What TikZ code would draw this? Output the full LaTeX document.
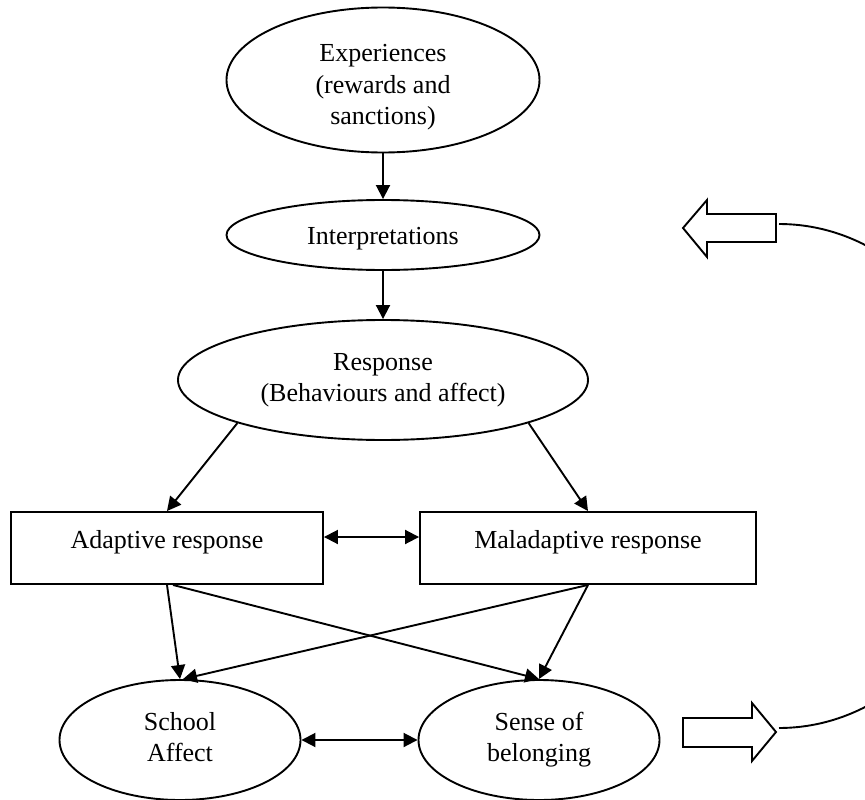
\documentclass[tikz,border=0pt]{standalone}
\usepackage{fontspec}
\setmainfont{Liberation Serif}
\usetikzlibrary{arrows.meta,shapes.geometric}
\newcommand{\mlines}[2][0pt]{\raisebox{#1}[0pt][0pt]{\begin{tabular}{@{}c@{}}#2\end{tabular}}}
\begin{document}
\begin{tikzpicture}[x=1pt,y=-1pt,
  every node/.style={font=\fontsize{26}{31.5}\selectfont, align=center, inner sep=0pt},
  ell/.style={draw, ellipse, line width=1.9pt},
  box/.style={draw, rectangle, line width=1.9pt},
  conn/.style={line width=1.9pt, -{Triangle[length=14pt,width=14pt]}},
  biconn/.style={line width=1.9pt, {Triangle[length=14pt,width=14pt]}-{Triangle[length=14pt,width=14pt]}},
  blockarrow/.style={draw, line width=1.9pt, fill=white, line join=miter},
  loopline/.style={line width=1.9pt}
]
\useasboundingbox (0,0) rectangle (865,800);
\fill[white] (0,0) rectangle (865,800);

\node[ell, minimum width=313pt, minimum height=145pt] (exp) at (383,80) {\mlines[-13pt]{Experiences\\(rewards and\\sanctions)}};
\node[ell, minimum width=313pt, minimum height=70pt] (int) at (383,235) {\raisebox{-9pt}[0pt][0pt]{Interpretations}};
\node[ell, minimum width=410pt, minimum height=120pt] (resp) at (383,380) {\mlines[-6pt]{Response\\(Behaviours and affect)}};
\node[box, minimum width=312pt, minimum height=72pt] (adapt) at (167,548) {\raisebox{0pt}[0pt][0pt]{Adaptive response}};
\node[box, minimum width=336pt, minimum height=72pt] (mal) at (588,548) {\raisebox{0pt}[0pt][0pt]{Maladaptive response}};
\node[ell, minimum width=241pt, minimum height=120pt] (school) at (180,740) {\mlines[-6pt]{School\\Affect}};
\node[ell, minimum width=241pt, minimum height=120pt] (sense) at (539,740) {\mlines[-6pt]{Sense of\\belonging}};

\draw[conn] (exp) -- (int);
\draw[conn] (int) -- (resp);
\draw[conn] (resp.south west) -- (adapt.north);
\draw[conn] (resp.south east) -- (mal.north);
\draw[biconn] ([yshift=11pt]adapt.east) -- ([yshift=11pt]mal.west);
\draw[conn] (adapt.south) -- (school.north);
\draw[conn] ([xshift=6pt]adapt.south) -- (sense.north);
\draw[conn] (mal.south) -- (sense.north);
\draw[conn] (mal.south) -- ([xshift=3pt]school.north);
\draw[biconn] (school) -- (sense);

% block arrows
\draw[blockarrow] (683,228) -- (707,200) -- (707,214) -- (776,214) -- (776,242) -- (707,242) -- (707,257) -- cycle;
\draw[blockarrow] (683,718) -- (752,718) -- (752,703) -- (776,732) -- (752,761) -- (752,747) -- (683,747) -- cycle;
\coordinate (ltail) at (779,224);
\coordinate (rtip) at (779,728);
\begin{scope}
\clip (0,0) rectangle (865,800);
\draw[loopline] (ltail) .. controls (898,224) and (994,337) .. (994,476) .. controls (994,615) and (898,728) .. (rtip);
\end{scope}
\end{tikzpicture}
\end{document}
